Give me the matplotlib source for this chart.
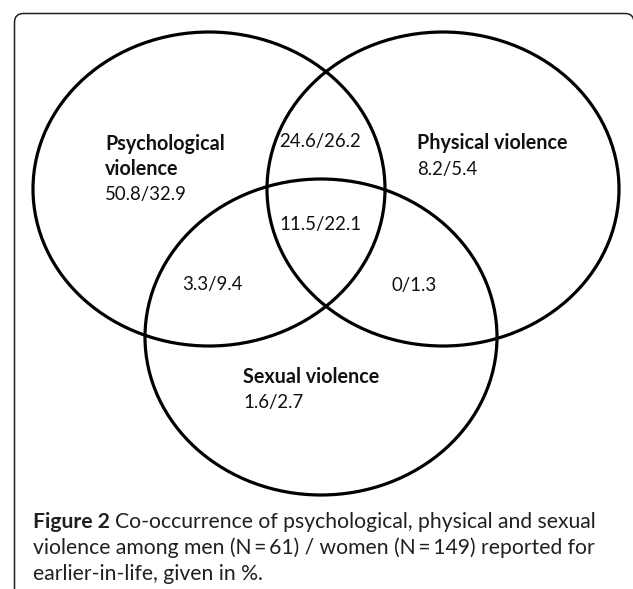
import matplotlib
matplotlib.use("Agg")
import matplotlib.pyplot as plt
from matplotlib.patches import Ellipse, FancyBboxPatch

# ---- data ----
set_names = ["Psychological", "violence", "Physical violence", "Sexual violence"]
region_keys = ["psych", "psych_phys", "phys", "all", "psych_sex", "phys_sex", "sex"]
men_pct = [50.8, 24.6, 8.2, 11.5, 3.3, 0, 1.6]
women_pct = [32.9, 26.2, 5.4, 22.1, 9.4, 1.3, 2.7]
caption_bold = "Figure 2"
caption_lines = [
    "Co-occurrence of psychological, physical and sexual",
    "violence among men (N\u2009=\u200961) / women (N\u2009=\u2009149) reported for",
    "earlier-in-life, given in %.",
]

W, H = 633, 589
fig = plt.figure(figsize=(W / 100, H / 100), dpi=100)
ax = fig.add_axes([0, 0, 1, 1])
ax.set_xlim(0, W)
ax.set_ylim(H, 0)
ax.axis("off")

FONT = ["Lato", "DejaVu Sans"]
TXT = "#111111"
CAP = "#231f20"

# frame
frame = FancyBboxPatch((14.5, 13.5), 619.5, 700, boxstyle="round,pad=0,rounding_size=9",
                       fill=False, ec="#231f20", lw=1.1)
ax.add_patch(frame)

# circles
lw = 2.3
for (cx, cy, w, h) in [(209, 189, 352, 314), (443, 189, 352, 314), (321, 337, 352, 316)]:
    ax.add_patch(Ellipse((cx, cy), w, h, fill=False, ec="black", lw=lw))

def lab(i):
    return f"{men_pct[i]:g}/{women_pct[i]:g}"

vals = dict(zip(region_keys, range(len(region_keys))))
bfs = 14.2
fs = 13.4
# set names (bold)
ax.text(105, 150, set_names[0], fontsize=bfs, fontweight="bold", family=FONT, color=TXT, va="baseline")
ax.text(105, 175, set_names[1], fontsize=bfs, fontweight="bold", family=FONT, color=TXT, va="baseline")
ax.text(417, 149, set_names[2], fontsize=bfs, fontweight="bold", family=FONT, color=TXT, va="baseline")
ax.text(243, 383, set_names[3], fontsize=bfs, fontweight="bold", family=FONT, color=TXT, va="baseline")

# region values
pos = {
    "psych": (105, 200, "left"),
    "psych_phys": (320, 147, "center"),
    "phys": (417, 175, "left"),
    "all": (320, 230, "center"),
    "psych_sex": (212, 290, "center"),
    "phys_sex": (414, 291, "center"),
    "sex": (243, 408, "left"),
}
for k, (x, y, ha) in pos.items():
    ax.text(x, y, lab(vals[k]), fontsize=fs, family=FONT, color=TXT, va="baseline", ha=ha)

# caption
cfs = 15.2
fig.canvas.draw()
r = fig.canvas.get_renderer()
cx0 = 33
bases = [528, 554, 580]
tb = ax.text(cx0, bases[0], caption_bold, fontsize=cfs, fontweight="bold", family=FONT, color=CAP, va="baseline")
bb = tb.get_window_extent(r)
x1 = ax.transData.inverted().transform((bb.x1, bb.y0))[0]
ax.text(x1 + 5, bases[0], caption_lines[0], fontsize=cfs, family=FONT, color=CAP, va="baseline")
ax.text(cx0, bases[1], caption_lines[1], fontsize=cfs, family=FONT, color=CAP, va="baseline")
ax.text(cx0, bases[2], caption_lines[2], fontsize=cfs, family=FONT, color=CAP, va="baseline")

fig.savefig("out.png", dpi=100)
